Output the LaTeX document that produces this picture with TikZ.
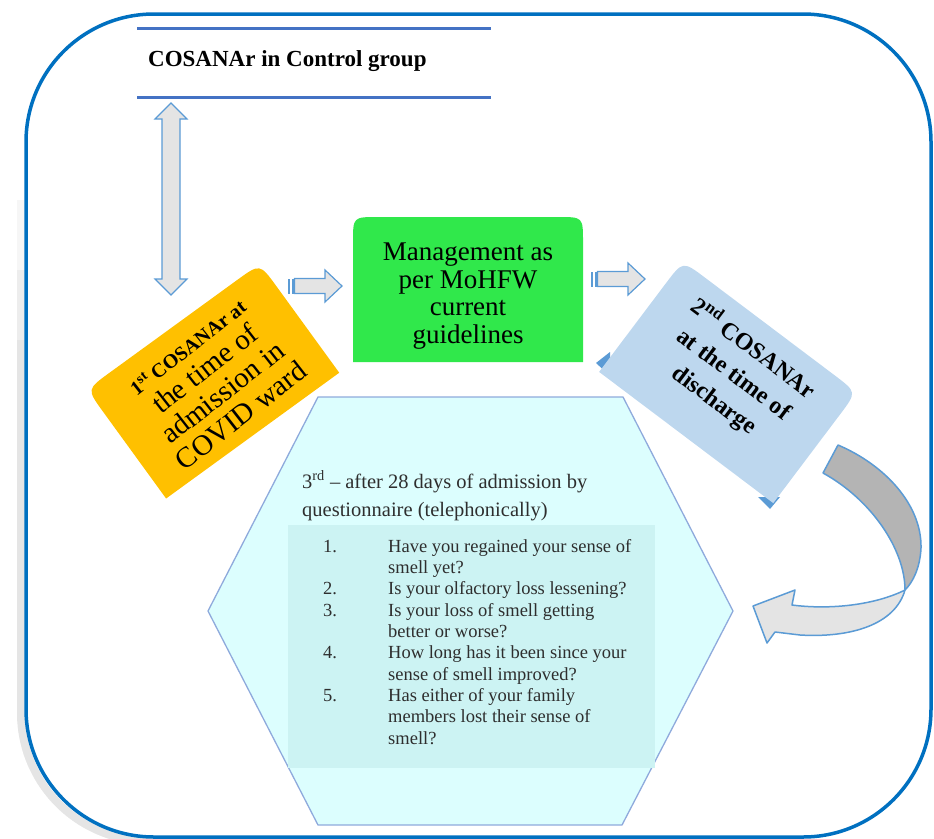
\documentclass[tikz,border=0pt]{standalone}
\usepackage{fontspec}
\setmainfont{Liberation Serif}
\definecolor{frameblue}{HTML}{0070C0}
\definecolor{hdrblue}{HTML}{4472C4}
\definecolor{arrowedge}{HTML}{5B9BD5}
\definecolor{arrowfill}{HTML}{E4E4E4}
\definecolor{orangebox}{HTML}{FFC000}
\definecolor{greenbox}{HTML}{30E84B}
\definecolor{bluebox}{HTML}{BDD7EE}
\definecolor{hexfill}{HTML}{DCFEFE}
\definecolor{hexedge}{HTML}{8FAADC}
\definecolor{innerfill}{HTML}{CCF3F3}
\definecolor{darkarrow}{HTML}{B4B4B4}
\definecolor{txtgray}{HTML}{2E2E2E}
\begin{document}
\begin{tikzpicture}[x=1pt,y=-1pt,
  arrowshape/.style={draw=arrowedge, fill=arrowfill, line width=1.2pt, line join=miter},
  qtext/.style={anchor=base west, inner sep=0pt, text=txtgray, font=\fontsize{18.5}{21}\selectfont},
  headtext/.style={anchor=base west, inner sep=0pt, text=txtgray, font=\fontsize{20.5}{24}\selectfont},
  shadowline/.style={black, opacity=0.035, line width=8pt, rounded corners=128pt},
  stripearrow/.pic={
    \fill[arrowedge] (0,-7.5) rectangle (2,7.5);
    \fill[arrowedge] (3.5,-7.5) rectangle (5.5,7.5);
    \draw[arrowshape] (6.5,-7.5) -- (37,-7.5) -- (37,-16) -- (54,0) -- (37,16) -- (37,7.5) -- (6.5,7.5) -- cycle;
  }]
\useasboundingbox (0,0) rectangle (934,838);

% soft shadow of the frame on the left
\draw[shadowline] (21,200) -- (21,841) -- (260,841);
\draw[shadowline] (21,270) -- (21,841) -- (240,841);
\draw[shadowline] (21,340) -- (21,841) -- (220,841);

% outer frame
\draw[frameblue, line width=3.5pt, rounded corners=128pt] (26,14) rectangle (931,837);

% header
\draw[hdrblue, line width=3pt] (137,28) -- (491,28);
\draw[hdrblue, line width=3pt] (137,97) -- (491,97);
\node[anchor=base west, inner sep=0pt, font=\fontsize{23}{26}\selectfont\bfseries] (ctrl) at (148,66) {COSANAr in Control group};

% vertical double arrow
\draw[arrowshape] (171,103) -- (187,119) -- (180,119) -- (180,279) -- (187,279) -- (171,295) -- (155,279) -- (162,279) -- (162,119) -- (155,119) -- cycle;

% horizontal striped arrows
\pic at (288,286) {stripearrow};
\pic at (591,279) {stripearrow};

% green box
\fill[greenbox] (353,362) -- (353,242) .. controls (353,217) .. (378,217) -- (558,217) .. controls (583,217) .. (583,242) -- (583,362) -- cycle;
\node[inner sep=0pt, align=center, font=\fontsize{27}{27.5}\selectfont] (mgmt) at (468,296) {Management as\\per MoHFW\\current\\guidelines};

% orange box
\begin{scope}[shift={(213,381)}, rotate=36]
\fill[orangebox] (-107,67.5) -- (-107,-39.5) .. controls (-107,-67.5) .. (-79,-67.5) -- (79,-67.5) .. controls (107,-67.5) .. (107,-39.5) -- (107,67.5) -- cycle;
\end{scope}
\node[rotate=38, inner sep=0pt, align=center, font=\fontsize{29}{29.5}\selectfont] (first) at (215,382)
  {{\fontsize{20}{22}\selectfont\bfseries 1\textsuperscript{st} COSANAr at}\\the time of\\admission in\\COVID ward};

% blue box
\fill[arrowedge] (596,363) -- (610,352) -- (610,376) -- cycle;
\fill[arrowedge] (770,509) -- (758,497) -- (780,497) -- cycle;
\begin{scope}[shift={(728,382)}, rotate=-37]
\fill[bluebox] (-109,69.5) -- (-109,-41.5) .. controls (-109,-69.5) .. (-81,-69.5) -- (81,-69.5) .. controls (109,-69.5) .. (109,-41.5) -- (109,69.5) -- cycle;
\end{scope}
\node[rotate=-37, inner sep=0pt, align=center, font=\fontsize{24}{32}\selectfont\bfseries] (second) at (734,374)
  {2\textsuperscript{nd} COSANAr\\at the time of\\discharge};

% hexagon
\draw[hexedge, fill=hexfill, line width=1.3pt] (318,397) -- (623,397) -- (733,611) -- (622,825) -- (318,825) -- (208,611) -- cycle;
\fill[innerfill] (288,525) rectangle (655,768);
\node[headtext] (third) at (302,488) {3\textsuperscript{rd} -- after 28 days of admission by};
\node[headtext] (third2) at (302,516) {questionnaire (telephonically)};

\node[qtext] (n1) at (323,552) {1.};
\node[qtext] (n2) at (323,594.7) {2.};
\node[qtext] (n3) at (323,616) {3.};
\node[qtext] (n4) at (323,658.7) {4.};
\node[qtext] (n5) at (323,701.3) {5.};
\node[qtext] (q1) at (388,552) {Have you regained your sense of};
\node[qtext] (q1b) at (388,573.3) {smell yet?};
\node[qtext] (q2) at (388,594.7) {Is your olfactory loss lessening?};
\node[qtext] (q3) at (388,616) {Is your loss of smell getting};
\node[qtext] (q3b) at (388,637.3) {better or worse?};
\node[qtext] (q4) at (388,658.7) {How long has it been since your};
\node[qtext] (q4b) at (388,680) {sense of smell improved?};
\node[qtext] (q5) at (388,701.3) {Has either of your family};
\node[qtext] (q5b) at (388,722.7) {members lost their sense of};
\node[qtext] (q5c) at (388,744) {smell?};

% curved arrow
\draw[draw=arrowedge, fill=darkarrow, line width=1.5pt, line join=round]
  (823,473) -- (838,445) .. controls (885,465) and (922,505) .. (921,548)
  .. controls (920,568) and (913,582) .. (905,590)
  .. controls (905,550) and (872,500) .. (823,473) -- cycle;
\draw[draw=arrowedge, fill=arrowfill, line width=1.5pt, line join=round]
  (905,590) .. controls (895,625) and (850,638) .. (800,635) -- (775,632)
  -- (767,643) -- (753,606) -- (795,590) -- (792,605)
  .. controls (830,610) and (875,605) .. (905,590) -- cycle;
\end{tikzpicture}
\end{document}
